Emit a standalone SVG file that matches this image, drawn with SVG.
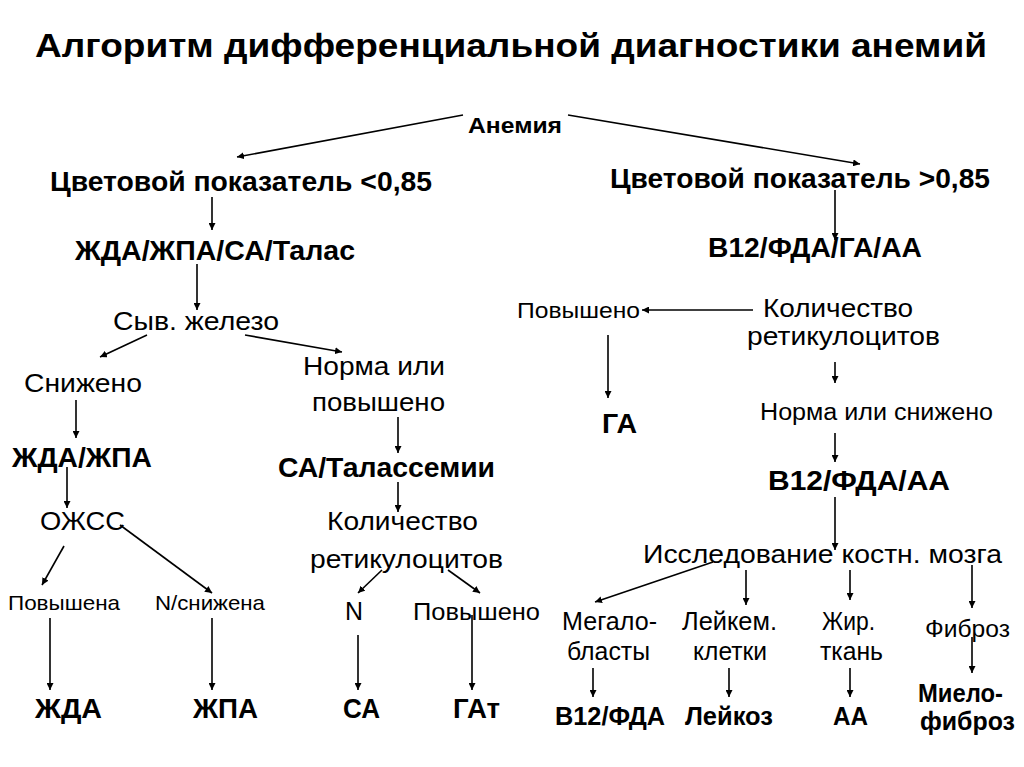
<svg xmlns="http://www.w3.org/2000/svg" width="1024" height="767" viewBox="0 0 1024 767">
<defs>
<marker id="ah" viewBox="0 0 10 10" refX="10" refY="5" markerWidth="7" markerHeight="7" markerUnits="userSpaceOnUse" orient="auto">
<path d="M0,0 L10,5 L0,10 z" fill="#000"/>
</marker>
<style>
text{font-family:"Liberation Sans",Arial,sans-serif;fill:#000}
.b{font-weight:bold}
.r{font-weight:normal}
#connectors line{stroke:#000;stroke-width:1.6;marker-end:url(#ah)}
</style>
</defs>
<rect width="1024" height="767" fill="#fff"/>
<g id="title"><text class="b" x="35" y="57" font-size="34" textLength="952" lengthAdjust="spacingAndGlyphs">Алгоритм дифференциальной диагностики анемий</text></g>
<g id="n-anemia"><text class="b" x="468" y="133" font-size="22" textLength="94" lengthAdjust="spacingAndGlyphs">Анемия</text></g>
<g id="n-cp-low"><text class="b" x="50" y="191" font-size="27" textLength="382" lengthAdjust="spacingAndGlyphs">Цветовой показатель &lt;0,85</text></g>
<g id="n-cp-high"><text class="b" x="610" y="188" font-size="27" textLength="380" lengthAdjust="spacingAndGlyphs">Цветовой показатель &gt;0,85</text></g>
<g id="n-zda-zpa-sa-talas"><text class="b" x="75" y="260" font-size="27" textLength="280" lengthAdjust="spacingAndGlyphs">ЖДА/ЖПА/СА/Талас</text></g>
<g id="n-b12-fda-ga-aa"><text class="b" x="708" y="257" font-size="27" textLength="214" lengthAdjust="spacingAndGlyphs">В12/ФДА/ГА/АА</text></g>
<g id="n-iron"><text class="r" x="113" y="330" font-size="26" textLength="166" lengthAdjust="spacingAndGlyphs">Сыв. железо</text></g>
<g id="n-decreased"><text class="r" x="24" y="392" font-size="26" textLength="118" lengthAdjust="spacingAndGlyphs">Снижено</text></g>
<g id="n-norm-or-inc"><text class="r" x="303" y="375" font-size="26" textLength="142" lengthAdjust="spacingAndGlyphs">Норма или</text><text class="r" x="312" y="411" font-size="26" textLength="133" lengthAdjust="spacingAndGlyphs">повышено</text></g>
<g id="n-zda-zpa"><text class="b" x="12" y="467" font-size="27" textLength="140" lengthAdjust="spacingAndGlyphs">ЖДА/ЖПА</text></g>
<g id="n-sa-thal"><text class="b" x="278" y="477" font-size="27" textLength="217" lengthAdjust="spacingAndGlyphs">СА/Талассемии</text></g>
<g id="n-ojss"><text class="r" x="40" y="530" font-size="26" textLength="85" lengthAdjust="spacingAndGlyphs">ОЖСС</text></g>
<g id="n-retic-left"><text class="r" x="327" y="530" font-size="26" textLength="151" lengthAdjust="spacingAndGlyphs">Количество</text><text class="r" x="310" y="568" font-size="26" textLength="193" lengthAdjust="spacingAndGlyphs">ретикулоцитов</text></g>
<g id="n-povyshena"><text class="r" x="8" y="610" font-size="21" textLength="112" lengthAdjust="spacingAndGlyphs">Повышена</text></g>
<g id="n-n-snizhena"><text class="r" x="155" y="610" font-size="21" textLength="110" lengthAdjust="spacingAndGlyphs">N/снижена</text></g>
<g id="n-n"><text class="r" x="345" y="620" font-size="26" textLength="18" lengthAdjust="spacingAndGlyphs">N</text></g>
<g id="n-povysheno-left"><text class="r" x="413" y="620" font-size="24" textLength="127" lengthAdjust="spacingAndGlyphs">Повышено</text></g>
<g id="n-zda"><text class="b" x="35" y="718" font-size="27" textLength="67" lengthAdjust="spacingAndGlyphs">ЖДА</text></g>
<g id="n-zpa"><text class="b" x="193" y="718" font-size="27" textLength="65" lengthAdjust="spacingAndGlyphs">ЖПА</text></g>
<g id="n-sa"><text class="b" x="343" y="718" font-size="27" textLength="37" lengthAdjust="spacingAndGlyphs">СА</text></g>
<g id="n-gat"><text class="b" x="453" y="718" font-size="27" textLength="47" lengthAdjust="spacingAndGlyphs">ГАт</text></g>
<g id="n-povysheno-right"><text class="r" x="517" y="318" font-size="22" textLength="123" lengthAdjust="spacingAndGlyphs">Повышено</text></g>
<g id="n-retic-right"><text class="r" x="763" y="317" font-size="26" textLength="150" lengthAdjust="spacingAndGlyphs">Количество</text><text class="r" x="747" y="345" font-size="26" textLength="193" lengthAdjust="spacingAndGlyphs">ретикулоцитов</text></g>
<g id="n-ga"><text class="b" x="602" y="433" font-size="27" textLength="35" lengthAdjust="spacingAndGlyphs">ГА</text></g>
<g id="n-norm-or-dec"><text class="r" x="760" y="420" font-size="23" textLength="233" lengthAdjust="spacingAndGlyphs">Норма или снижено</text></g>
<g id="n-b12-fda-aa"><text class="b" x="768" y="490" font-size="27" textLength="182" lengthAdjust="spacingAndGlyphs">В12/ФДА/АА</text></g>
<g id="n-marrow"><text class="r" x="643" y="563" font-size="26" textLength="359" lengthAdjust="spacingAndGlyphs">Исследование костн. мозга</text></g>
<g id="n-megalo"><text class="r" x="562" y="630" font-size="25" textLength="95" lengthAdjust="spacingAndGlyphs">Мегало-</text><text class="r" x="567" y="660" font-size="25" textLength="83" lengthAdjust="spacingAndGlyphs">бласты</text></g>
<g id="n-leukem"><text class="r" x="682" y="630" font-size="25" textLength="95" lengthAdjust="spacingAndGlyphs">Лейкем.</text><text class="r" x="693" y="660" font-size="25" textLength="74" lengthAdjust="spacingAndGlyphs">клетки</text></g>
<g id="n-fat"><text class="r" x="822" y="630" font-size="25" textLength="53" lengthAdjust="spacingAndGlyphs">Жир.</text><text class="r" x="820" y="660" font-size="25" textLength="63" lengthAdjust="spacingAndGlyphs">ткань</text></g>
<g id="n-fibrosis"><text class="r" x="925" y="637" font-size="24" textLength="85" lengthAdjust="spacingAndGlyphs">Фиброз</text></g>
<g id="n-b12-fda"><text class="b" x="555" y="725" font-size="25" textLength="110" lengthAdjust="spacingAndGlyphs">В12/ФДА</text></g>
<g id="n-leukosis"><text class="b" x="685" y="725" font-size="25" textLength="88" lengthAdjust="spacingAndGlyphs">Лейкоз</text></g>
<g id="n-aa"><text class="b" x="833" y="725" font-size="25" textLength="35" lengthAdjust="spacingAndGlyphs">АА</text></g>
<g id="n-myelofibrosis"><text class="b" x="918" y="702" font-size="25" textLength="85" lengthAdjust="spacingAndGlyphs">Миело-</text><text class="b" x="920" y="730" font-size="25" textLength="95" lengthAdjust="spacingAndGlyphs">фиброз</text></g>
<g id="connectors">
<line x1="463" y1="115" x2="237" y2="157"/>
<line x1="568" y1="115" x2="860" y2="164"/>
<line x1="212" y1="197" x2="212" y2="230"/>
<line x1="197" y1="264" x2="197" y2="310"/>
<line x1="147" y1="335" x2="100" y2="357"/>
<line x1="245" y1="335" x2="342" y2="352"/>
<line x1="76" y1="400" x2="76" y2="438"/>
<line x1="398" y1="417" x2="398" y2="453"/>
<line x1="67" y1="467" x2="67" y2="508"/>
<line x1="398" y1="482" x2="398" y2="512"/>
<line x1="64" y1="546" x2="42" y2="585"/>
<line x1="120" y1="525" x2="212" y2="593"/>
<line x1="382" y1="570" x2="358" y2="593"/>
<line x1="448" y1="570" x2="480" y2="593"/>
<line x1="50" y1="618" x2="50" y2="690"/>
<line x1="212" y1="618" x2="212" y2="690"/>
<line x1="358" y1="635" x2="358" y2="690"/>
<line x1="472" y1="615" x2="472" y2="690"/>
<line x1="835" y1="190" x2="835" y2="240"/>
<line x1="753" y1="310" x2="642" y2="310"/>
<line x1="608" y1="335" x2="608" y2="398"/>
<line x1="835" y1="362" x2="835" y2="383"/>
<line x1="835" y1="433" x2="835" y2="462"/>
<line x1="835" y1="497" x2="835" y2="550"/>
<line x1="713" y1="562" x2="595" y2="602"/>
<line x1="746" y1="570" x2="746" y2="605"/>
<line x1="850" y1="570" x2="850" y2="600"/>
<line x1="972" y1="565" x2="972" y2="608"/>
<line x1="593" y1="668" x2="593" y2="697"/>
<line x1="729" y1="668" x2="729" y2="697"/>
<line x1="850" y1="668" x2="850" y2="697"/>
<line x1="972" y1="637" x2="972" y2="673"/>
</g>
</svg>
